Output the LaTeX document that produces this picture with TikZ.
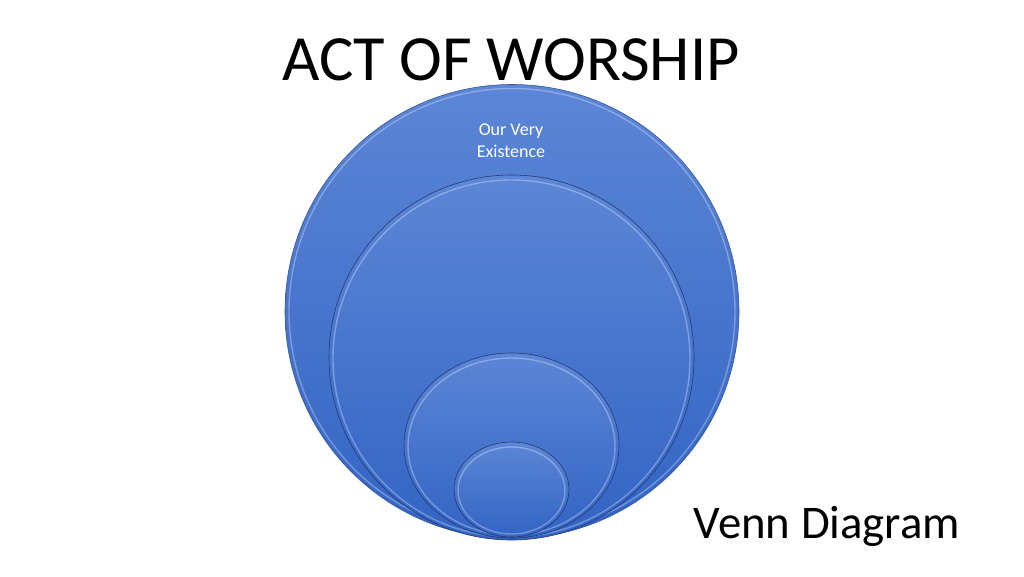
\documentclass[tikz,border=0pt]{standalone}
\usepackage{fontspec}
\setmainfont{Carlito}
\definecolor{topblue}{RGB}{92,134,214}
\definecolor{botblue}{RGB}{50,100,196}
\definecolor{edgeblue}{RGB}{36,58,112}
\tikzset{
  disc/.style={top color=topblue, bottom color=botblue, draw=edgeblue, line width=0.6pt},
  bevel/.style={draw=white, draw opacity=0.3, line width=1.4pt},
  titletext/.style={font=\fontsize{64.5}{70}\selectfont, text=black, inner sep=0pt},
  labeltext/.style={font=\fontsize{18}{22}\selectfont, text=white, align=center, inner sep=0pt},
}
\begin{document}
\begin{tikzpicture}[x=1pt,y=-1pt]
\useasboundingbox[fill=white] (0,0) rectangle (1024,576);
% outer circle
\path[disc, draw=edgeblue!60!topblue] (512,311.5) ellipse [x radius=227pt, y radius=227pt];
\path[bevel] (512,311.5) ellipse [x radius=223pt, y radius=223pt];
% second circle
\path[disc] (511.5,357.5) ellipse [x radius=182.5pt, y radius=182.5pt];
\path[bevel] (511.5,358.5) ellipse [x radius=178.5pt, y radius=178.5pt];
% third
\path[disc] (511.5,445.5) ellipse [x radius=107.5pt, y radius=92.5pt];
\path[bevel] (511.5,446.5) ellipse [x radius=103.5pt, y radius=88.5pt];
% fourth
\path[disc] (511.5,489.5) ellipse [x radius=57.5pt, y radius=47.5pt];
\path[bevel] (511.5,490.5) ellipse [x radius=53.5pt, y radius=43.5pt];
% texts
\node[titletext, anchor=base] (title) at (511,80) {ACT OF WORSHIP};
\node[labeltext, anchor=base] (lab1) at (511,135) {Our Very};
\node[labeltext, anchor=base] (lab2) at (511,157) {Existence};
\node[titletext, font=\fontsize{46.8}{50}\selectfont, anchor=base] (venn) at (827,538) {Venn Diagram};
\end{tikzpicture}
\end{document}
